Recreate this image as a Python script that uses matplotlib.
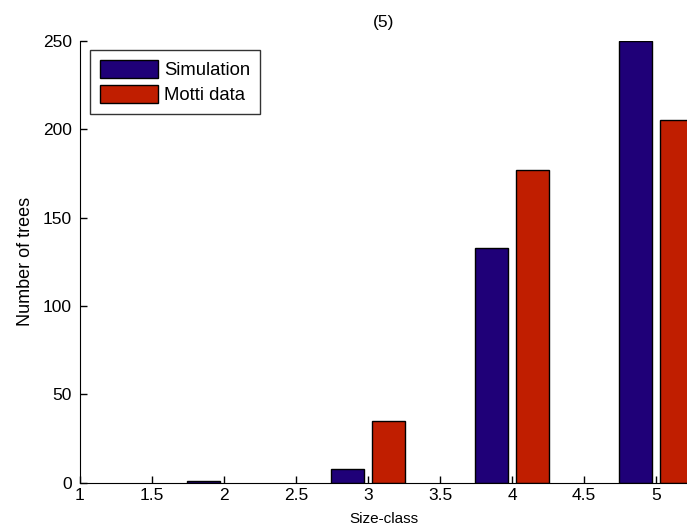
import matplotlib
matplotlib.use("Agg")
import matplotlib.pyplot as plt
from matplotlib.patches import Patch

size_class = [1, 2, 3, 4, 5]
simulation = [0, 1, 8, 133, 250]
motti = [0, 0, 35, 177, 205]
xticks = [1, 1.5, 2, 2.5, 3, 3.5, 4, 4.5, 5]
xticklabels = ['1', '1.5', '2', '2.5', '3', '3.5', '4', '4.5', '5']
yticks = [0, 50, 100, 150, 200, 250]

plt.rcParams['font.family'] = ['Liberation Sans', 'DejaVu Sans']

fig = plt.figure(figsize=(6.87, 5.32), dpi=100)
ax = fig.add_axes([80/687, 49.3/532, 607/687, 442/532])

w = 0.23
off = 0.14
sim_c = '#1f0078'
mot_c = '#c01e00'

sx = [x - off for x, v in zip(size_class, simulation) if v > 0]
sv = [v for v in simulation if v > 0]
mx = [x + off for x, v in zip(size_class, motti) if v > 0]
mv = [v for v in motti if v > 0]
ax.bar(sx, sv, width=w, color=sim_c, edgecolor='black', linewidth=1.0)
ax.bar(mx, mv, width=w, color=mot_c, edgecolor='black', linewidth=1.0)

ax.set_xlim(1, 5.215)
ax.set_ylim(0, 250)
ax.set_xticks(xticks)
ax.set_xticklabels(xticklabels)
ax.set_yticks(yticks)
ax.tick_params(direction='in', length=5, labelsize=12.5, width=1)
ax.tick_params(axis='y', pad=6)
for s in ['top', 'right']:
    ax.spines[s].set_visible(False)

ax.set_title('(5)', fontsize=12.5, pad=10)
ax.set_ylabel('Number of trees', fontsize=13, labelpad=6)
ax.set_xlabel('Size-class', fontsize=11, labelpad=7)

handles = [Patch(facecolor=sim_c, edgecolor='black', label='Simulation'),
           Patch(facecolor=mot_c, edgecolor='black', label='Motti data')]
leg = ax.legend(handles=handles, loc='upper left', bbox_to_anchor=(10/607, 1 - 9/442),
                fontsize=13.3, frameon=True, fancybox=False, edgecolor='black',
                handlelength=3.15, handleheight=1.15, handletextpad=0.3,
                borderpad=0.55, labelspacing=0.3, borderaxespad=0)
leg.get_frame().set_linewidth(1.0)

fig.savefig('out.png', dpi=100)
